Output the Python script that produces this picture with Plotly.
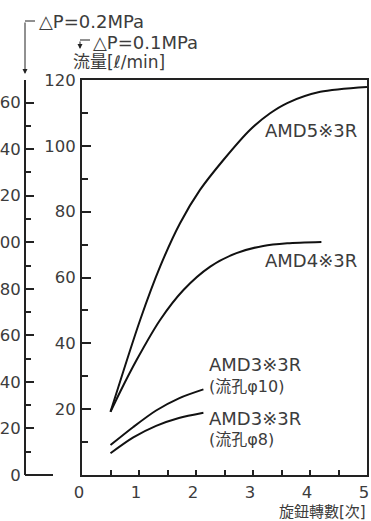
import plotly.graph_objects as go
import math

# ---- data ----
amd5_x = [0.5, 1.02, 1.37, 1.72, 2.07, 2.48, 2.95, 3.3, 3.6, 4.18, 5.0]
amd5_y = [19.2, 47.1, 63.3, 76.5, 86.6, 95.7, 104.9, 109.9, 113.0, 116.4, 117.9]

amd4_x = [0.5, 0.67, 0.96, 1.37, 1.78, 2.25, 2.71, 3.18, 3.6, 4.2]
amd4_y = [19.2, 25.3, 35.0, 47.1, 56.2, 63.3, 67.4, 69.6, 70.4, 70.8]

amd3_10_x = [0.5, 0.9, 1.3, 1.7, 2.13]
amd3_10_y = [9.1, 14.6, 19.6, 23.3, 26.0]

amd3_8_x = [0.5, 0.9, 1.3, 1.7, 2.13]
amd3_8_y = [6.6, 11.4, 14.9, 17.3, 18.9]

x_ticks = [0, 1, 2, 3, 4, 5]
y_ticks = [20, 40, 60, 80, 100, 120]
y2_ticks = [0, 20, 40, 60, 80, 100, 120, 140, 160]

W, H = 371, 521
FONT = "DejaVu Sans, Noto Sans CJK JP, sans-serif"
TXT = "#3c3c3c"
LINE = "#222222"


def px(x):
    return x / W


def py(y):
    return 1 - y / H


fig = go.Figure()
for xs, ys in [(amd5_x, amd5_y), (amd4_x, amd4_y), (amd3_10_x, amd3_10_y), (amd3_8_x, amd3_8_y)]:
    fig.add_trace(go.Scatter(x=xs, y=ys, mode="lines",
                             line=dict(color="#111111", width=2, shape="spline", smoothing=0.8),
                             showlegend=False, hoverinfo="skip"))

# dummy trace for the outer ΔP=0.2MPa axis
fig.add_trace(go.Scatter(x=[None], y=[None], yaxis="y2", showlegend=False))

tickfont = dict(family=FONT, size=16.5, color=TXT)

fig.update_layout(
    width=W, height=H,
    margin=dict(l=0, r=0, t=0, b=0),
    paper_bgcolor="white", plot_bgcolor="white",
    font=dict(family=FONT, color=TXT),
    xaxis=dict(domain=[px(82), px(367)], range=[0, 5], showgrid=False, zeroline=False,
               showline=True, linecolor=LINE, linewidth=2, mirror=True,
               tickvals=x_ticks, ticktext=[str(v) for v in x_ticks],
               ticks="inside", ticklen=5, tickwidth=1.5, tickcolor=LINE,
               minor=dict(dtick=0.5, ticks="inside", ticklen=5, tickwidth=1.5, tickcolor=LINE),
               tickfont=tickfont, ticklabelstandoff=1, ticklabelshift=-3,
               ticklabeloverflow="allow", automargin=False, fixedrange=True),
    yaxis=dict(domain=[py(475), py(80)], range=[0, 120], showgrid=False, zeroline=False,
               showline=True, linecolor=LINE, linewidth=2, mirror=True,
               tickvals=y_ticks, ticktext=[str(v) for v in y_ticks],
               ticks="inside", ticklen=9, tickwidth=1.5, tickcolor=LINE,
               minor=dict(dtick=10, ticks="inside", ticklen=6, tickwidth=1.5, tickcolor=LINE),
               tickfont=tickfont, ticklabelstandoff=1, automargin=False, fixedrange=True),
    yaxis2=dict(overlaying="y", anchor="free", position=px(25), side="left",
                range=[0, 120 * math.sqrt(2)], showgrid=False, zeroline=False,
                showline=True, linecolor=LINE, linewidth=2,
                tickvals=y2_ticks, ticktext=[str(v) for v in y2_ticks],
                ticks="inside", ticklen=8, tickwidth=1.5, tickcolor=LINE,
                minor=dict(dtick=10, ticks="inside", ticklen=5, tickwidth=1.5, tickcolor=LINE),
                tickfont=tickfont, ticklabelstandoff=0, ticklabeloverflow="allow",
                automargin=False, fixedrange=True),
)

shapes = [
    # bottom foot of outer axis
    dict(type="line", xref="paper", yref="paper", x0=px(25), x1=px(53), y0=py(475), y1=py(475),
         line=dict(color=LINE, width=2)),
    # ΔP=0.2 bracket
    dict(type="line", xref="paper", yref="paper", x0=px(25), x1=px(35), y0=py(21), y1=py(21),
         line=dict(color=LINE, width=1)),
    # ΔP=0.1 bracket
    dict(type="line", xref="paper", yref="paper", x0=px(80), x1=px(90), y0=py(40), y1=py(40),
         line=dict(color=LINE, width=1)),
]
fig.update_layout(shapes=shapes)

lab = dict(family=FONT, size=18, color=TXT)
sub = dict(family=FONT, size=16, color=TXT)
annotations = [
    # arrows
    dict(xref="paper", yref="paper", x=px(25), y=py(74), ax=0, ay=-53, text="", showarrow=True,
         arrowhead=2, arrowsize=1, arrowwidth=1, arrowcolor=LINE),
    dict(xref="paper", yref="paper", x=px(80), y=py(49), ax=0, ay=-9, text="", showarrow=True,
         arrowhead=2, arrowsize=1, arrowwidth=1, arrowcolor=LINE),
    dict(xref="paper", yref="paper", x=px(37), y=py(21), text="△P=0.2MPa", showarrow=False,
         xanchor="left", yanchor="middle", font=lab),
    dict(xref="paper", yref="paper", x=px(91), y=py(42), text="△P=0.1MPa", showarrow=False,
         xanchor="left", yanchor="middle", font=lab),
    dict(xref="paper", yref="paper", x=px(71), y=py(62), text="流量[ℓ/min]", showarrow=False,
         xanchor="left", yanchor="middle", font=dict(family=FONT, size=17, color=TXT)),
    dict(xref="paper", yref="paper", x=px(368), y=py(512), text="旋鈕轉數[次]", showarrow=False,
         xanchor="right", yanchor="middle", font=dict(family=FONT, size=15, color=TXT)),
    # curve labels
    dict(x=4.86, y=104.6, text="AMD5※3R", showarrow=False, xanchor="right", yanchor="middle", font=lab),
    dict(x=4.86, y=65.3, text="AMD4※3R", showarrow=False, xanchor="right", yanchor="middle", font=lab),
    dict(x=2.2, y=33.7, text="AMD3※3R", showarrow=False, xanchor="left", yanchor="middle", font=lab),
    dict(x=2.2, y=27.0, text="(流孔φ10)", showarrow=False, xanchor="left", yanchor="middle", font=sub),
    dict(x=2.2, y=17.3, text="AMD3※3R", showarrow=False, xanchor="left", yanchor="middle", font=lab),
    dict(x=2.2, y=10.9, text="(流孔φ8)", showarrow=False, xanchor="left", yanchor="middle", font=sub),
]
fig.update_layout(annotations=annotations)

fig.write_html("out.html", config={"displayModeBar": False},
               post_script="document.body.style.margin='0';document.body.style.overflow='hidden';")
